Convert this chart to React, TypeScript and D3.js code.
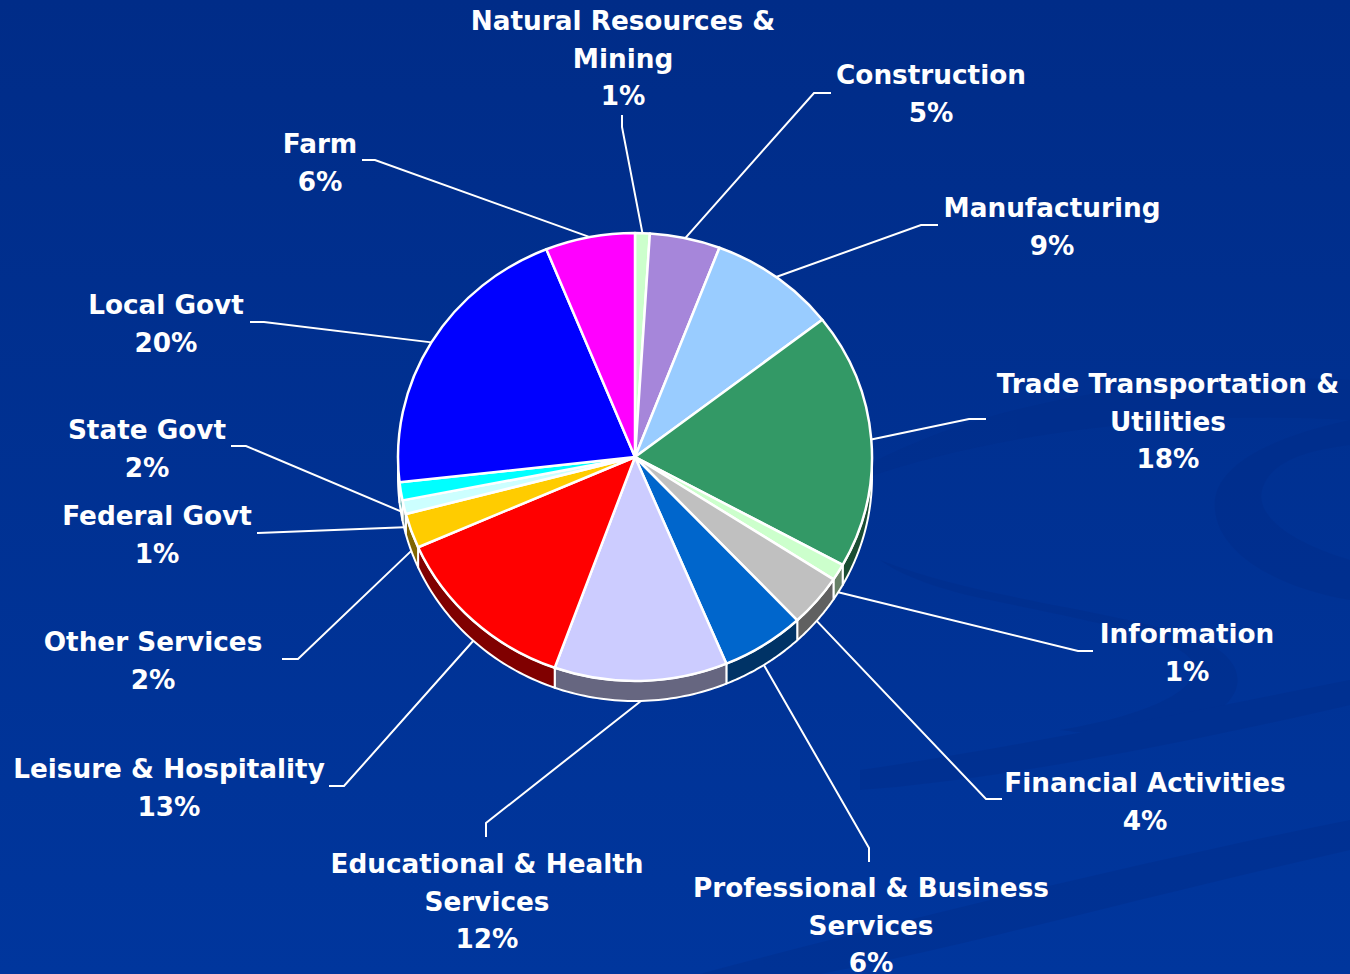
import * as d3 from "d3";

// sectors clockwise from 12 o'clock
const sectors = [
  "Natural Resources & Mining",
  "Construction",
  "Manufacturing",
  "Trade Transportation & Utilities",
  "Information",
  "Financial Activities",
  "Professional & Business Services",
  "Educational & Health Services",
  "Leisure & Hospitality",
  "Other Services",
  "Federal Govt",
  "State Govt",
  "Local Govt",
  "Farm",
];
const shares = [1.0, 4.8, 8.7, 18.5, 1.2, 3.8, 5.7, 11.8, 12.9, 2.5, 1.0, 1.3, 20.7, 6.1];
const pctLabels = ["1%", "5%", "9%", "18%", "1%", "4%", "6%", "12%", "13%", "2%", "1%", "2%", "20%", "6%"];
const sliceColors = [
  "#CCFFCC", "#A686DA", "#99CCFF", "#339966", "#CCFFCC", "#C0C0C0", "#0066CC",
  "#CCCCFF", "#FF0000", "#FFCC00", "#CCFFFF", "#00FFFF", "#0000FF", "#FF00FF",
];
const labelLines = [
  ["Natural Resources &", "Mining"],
  ["Construction"],
  ["Manufacturing"],
  ["Trade Transportation &", "Utilities"],
  ["Information"],
  ["Financial Activities"],
  ["Professional & Business", "Services"],
  ["Educational & Health", "Services"],
  ["Leisure & Hospitality"],
  ["Other Services"],
  ["Federal Govt"],
  ["State Govt"],
  ["Local Govt"],
  ["Farm"],
];

// label layout: text centre x, first baseline, leader elbow, leader end
const labelLayout = [
  { x: 623, y: 30, elbow: [622, 127], end: [622, 115] },
  { x: 931, y: 84, elbow: [814, 93], end: [831, 93] },
  { x: 1052, y: 217, elbow: [921, 225], end: [938, 225] },
  { x: 1168, y: 393, elbow: [969, 419], end: [986, 419] },
  { x: 1187, y: 643, elbow: [1078, 651], end: [1093, 651] },
  { x: 1145, y: 792, elbow: [986, 799], end: [1002, 799] },
  { x: 871, y: 897, elbow: [869, 848], end: [869, 862] },
  { x: 487, y: 873, elbow: [486, 823], end: [486, 837] },
  { x: 169, y: 778, elbow: [344, 786], end: [329, 786] },
  { x: 153, y: 651, elbow: [298, 659], end: [282, 659] },
  { x: 157, y: 525, elbow: [258, 533], end: [257, 533] },
  { x: 147, y: 439, elbow: [246, 446], end: [231, 446] },
  { x: 166, y: 314, elbow: [264, 322], end: [250, 322] },
  { x: 320, y: 153, elbow: [375, 160], end: [362, 160] },
];

const W = 1350;
const H = 974;
const cx = 635;
const cy = 457;
const rx = 237;
const ry = 224;
const depth = 20;
const lineH = 37.5;

function half(c: string) {
  const k = d3.rgb(c);
  return d3.rgb(k.r * 0.5, k.g * 0.5, k.b * 0.5).formatHex();
}

function onRim(t: number, dy = 0): [number, number] {
  return [cx + rx * Math.sin(t), cy - ry * Math.cos(t) + dy];
}

export default function App() {
  const data = sectors.map((name, i) => ({ name, value: shares[i], i }));
  const arcs = d3.pie<any>().sort(null).value((d) => d.value).startAngle(0).endAngle(2 * Math.PI)(data);

  const arcGen = d3.arc<any>().innerRadius(0).outerRadius(ry);
  const line = d3.line();

  // visible side wall (front half of the disc)
  const sides = arcs
    .map((a) => {
      const s = Math.max(a.startAngle, Math.PI / 2);
      const e = Math.min(a.endAngle, (3 * Math.PI) / 2);
      if (s >= e) return null;
      const ts = d3.range(0, 41).map((k) => s + ((e - s) * k) / 40);
      const pts = ts.map((t) => onRim(t)).concat(ts.slice().reverse().map((t) => onRim(t, depth)));
      return { d: line(pts as [number, number][]) + "Z", color: half(sliceColors[a.data.i]) };
    })
    .filter(Boolean) as { d: string; color: string }[];

  const leaders = arcs.map((a) => {
    const mid = (a.startAngle + a.endAngle) / 2;
    const front = mid > Math.PI / 2 && mid < (3 * Math.PI) / 2;
    const start = onRim(mid, front ? depth : 0);
    const lay = labelLayout[a.data.i];
    return line([start, lay.elbow as [number, number], lay.end as [number, number]]);
  });

  return (
    <svg
      width={W}
      height={H}
      style={{ position: "absolute", left: 0, top: 0 }}
      fontFamily="'DejaVu Sans', Verdana, sans-serif"
    >
      <defs>
        <linearGradient id="bg" x1="0" y1="0" x2="0" y2="1">
          <stop offset="0" stopColor="#002C88" />
          <stop offset="1" stopColor="#00369D" />
        </linearGradient>
      </defs>
      <rect width={W} height={H} fill="url(#bg)" />

      {/* background swooshes */}
      <g fill="#002A84" opacity={0.3}>
        <path d="M860,470 C980,400 1180,370 1350,380 L1350,420 C1190,410 1000,430 860,480 Z" />
        <path d="M1350,420 C1260,440 1210,470 1215,510 C1220,560 1290,590 1350,600 L1350,560 C1300,545 1255,520 1262,490 C1270,460 1310,450 1350,445 Z" />
        <path d="M880,560 C980,600 1120,610 1200,640 C1250,660 1250,700 1200,720 C1150,740 1100,735 1060,730 C1120,720 1190,700 1195,670 C1195,640 1110,625 990,600 C940,590 900,575 880,560 Z" />
        <path d="M860,770 C1000,750 1200,710 1350,680 L1350,705 C1200,740 1000,780 860,790 Z" />
        <path d="M700,974 C900,920 1150,860 1350,820 L1350,850 C1150,895 950,950 820,974 Z" />
      </g>

      {sides.map((s, i) => (
        <path key={"s" + i} d={s.d} fill={s.color} stroke="#fff" strokeWidth={2} strokeLinejoin="round" />
      ))}

      <g transform={`translate(${cx},${cy}) scale(${rx / ry},1)`}>
        {arcs.map((a) => (
          <path
            key={a.data.name}
            d={arcGen(a) || ""}
            fill={sliceColors[a.data.i]}
            stroke="#fff"
            strokeWidth={2.5}
            strokeLinejoin="round"
            vectorEffect="non-scaling-stroke"
          />
        ))}
      </g>

      <g fill="none" stroke="#fff" strokeWidth={2}>
        {leaders.map((d, i) => (
          <path key={"l" + i} d={d || ""} />
        ))}
      </g>

      <g fill="#fff" fontWeight="bold" fontSize={26.3} textAnchor="middle">
        {labelLayout.map((lay, i) => (
          <text key={"t" + i} x={lay.x} y={lay.y}>
            {labelLines[i].concat(pctLabels[i]).map((ln, k) => (
              <tspan key={k} x={lay.x} y={lay.y + k * lineH}>
                {ln}
              </tspan>
            ))}
          </text>
        ))}
      </g>
    </svg>
  );
}
